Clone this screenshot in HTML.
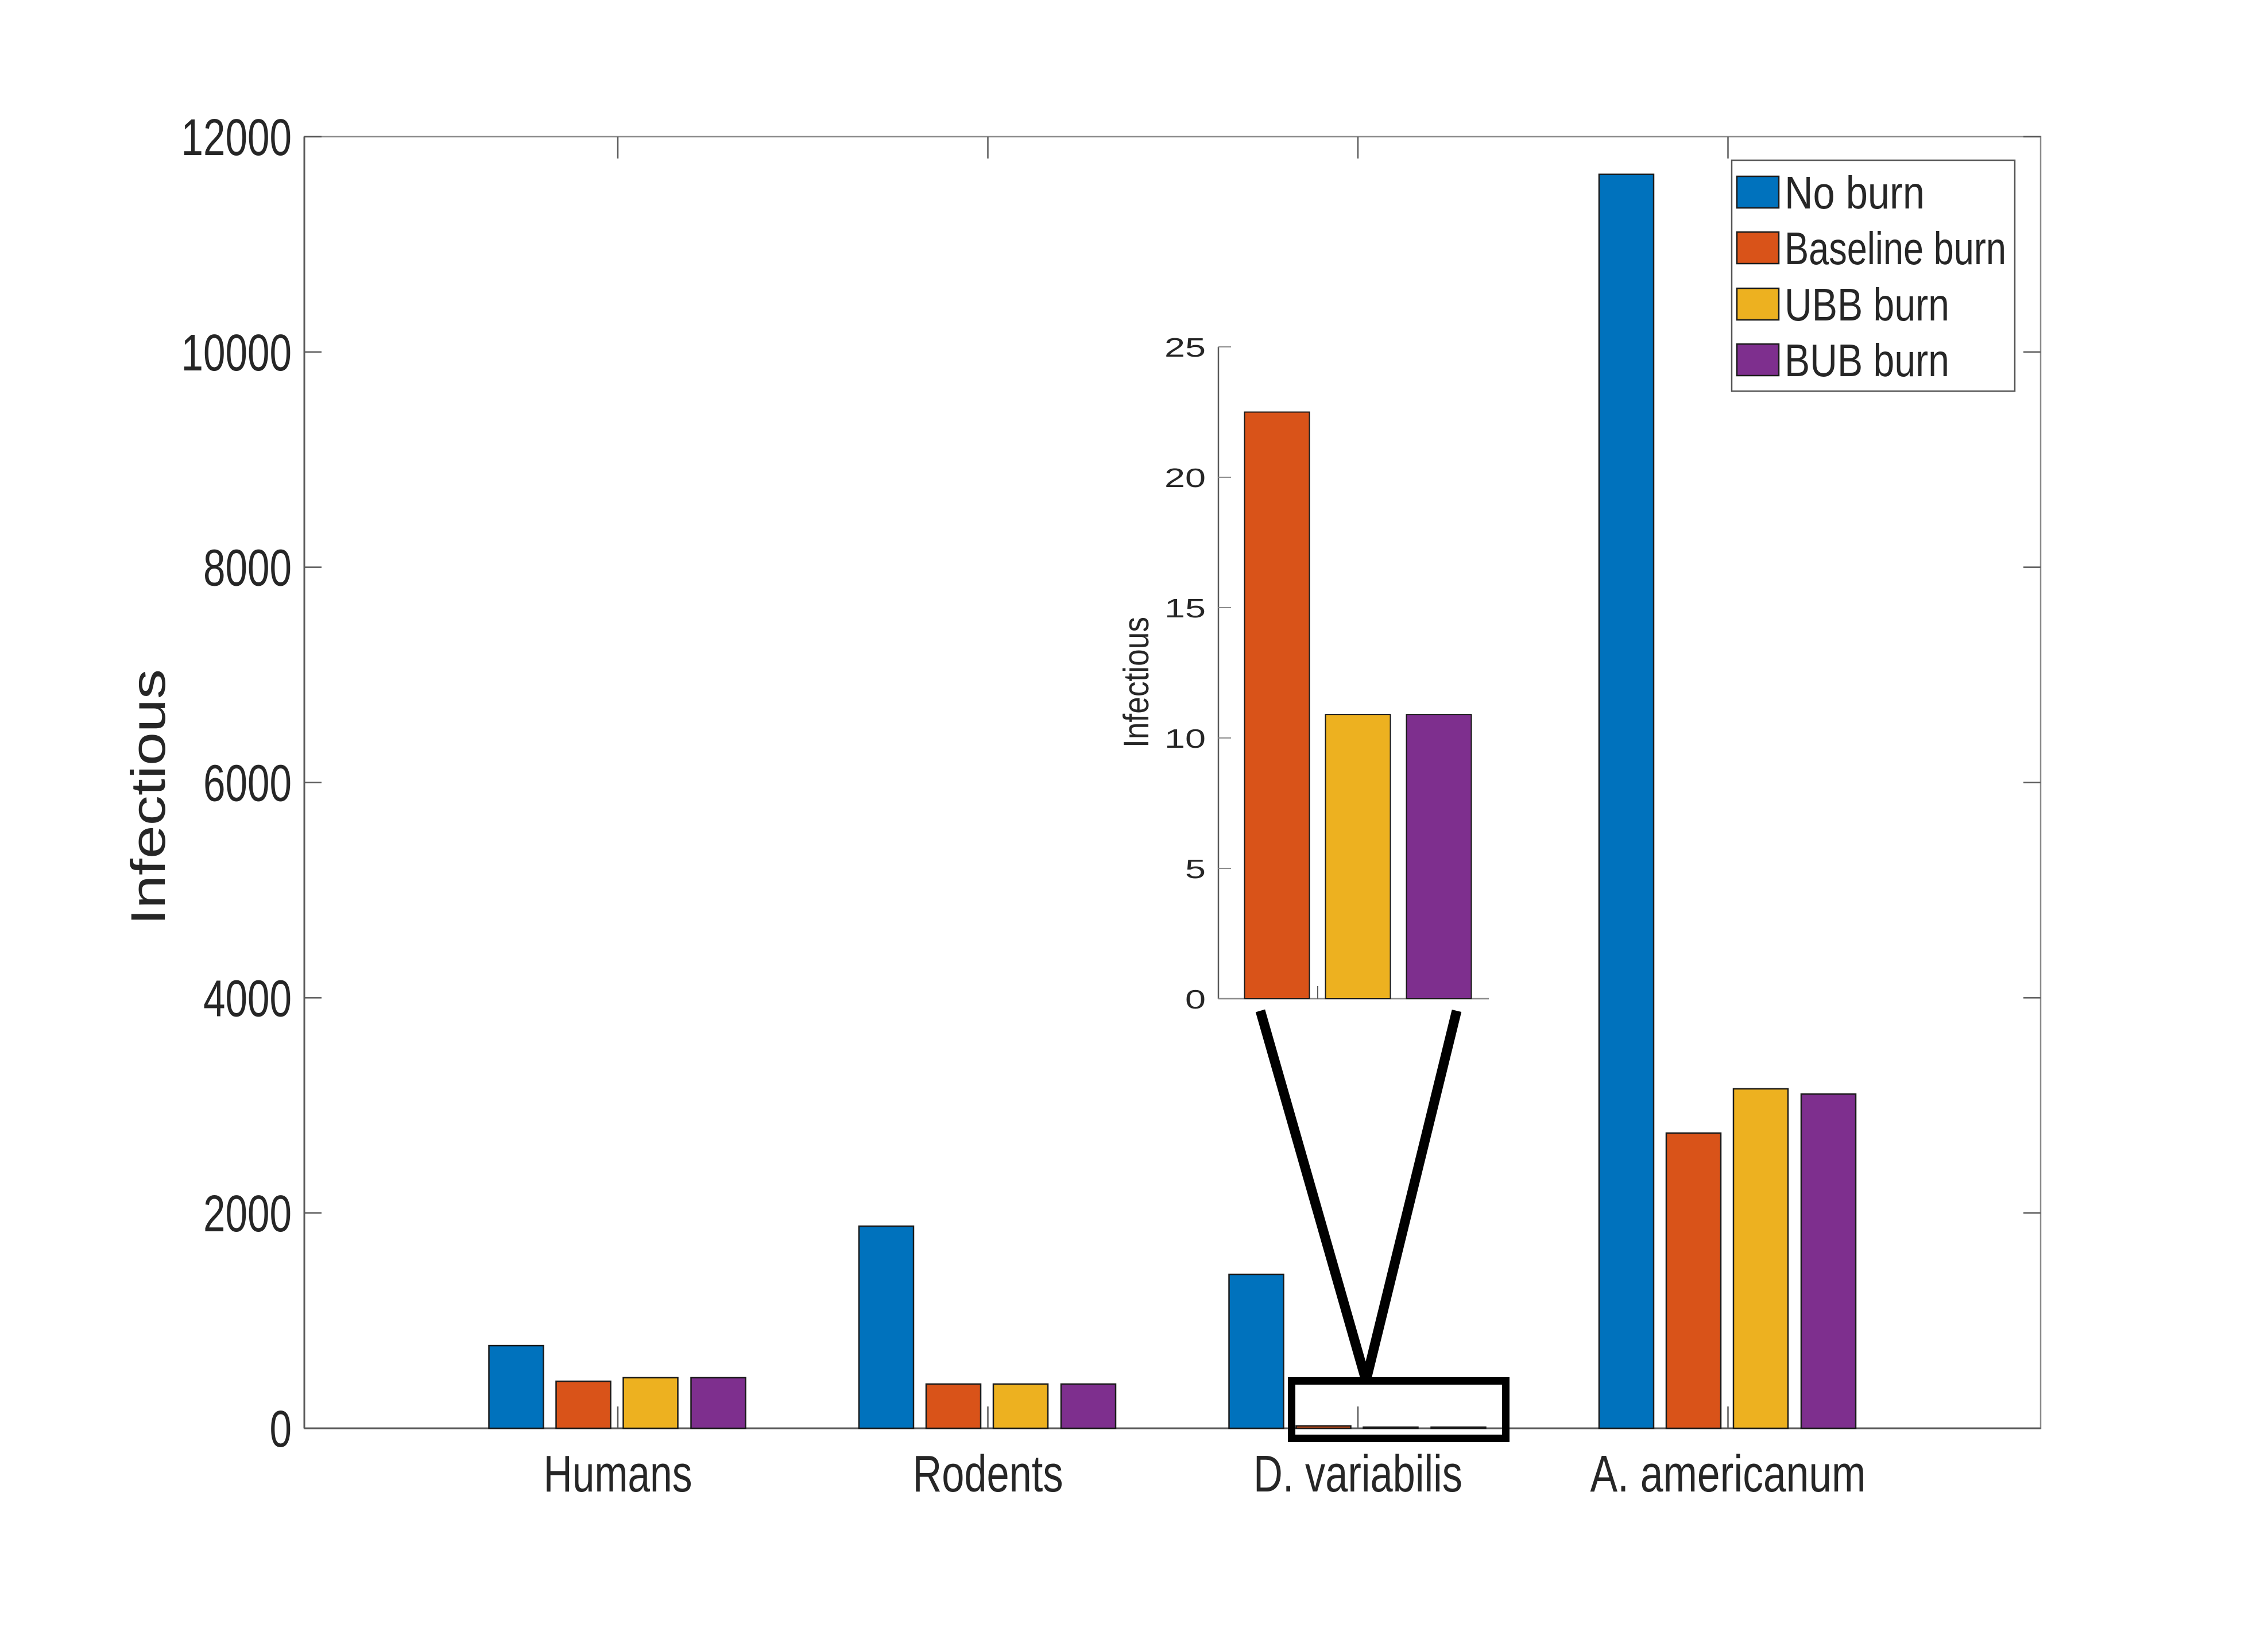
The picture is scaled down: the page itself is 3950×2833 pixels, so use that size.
<!DOCTYPE html>
<html><head><meta charset="utf-8"><style>
html,body{margin:0;padding:0;background:#fff;}
svg{display:block;}
text{font-family:"Liberation Sans",sans-serif;fill:#262626;}
</style></head><body>
<svg id="chart" width="3950" height="2833" viewBox="0 0 3950 2833" xmlns="http://www.w3.org/2000/svg">
<rect x="0" y="0" width="3950" height="2833" fill="#fff"/>
<g id="main"></g>
<g id="inset"></g>
<g id="legend"></g>
</svg>
<script>
const categories = ["Humans", "Rodents", "D. variabilis", "A. americanum"];
const seriesNames = ["No burn", "Baseline burn", "UBB burn", "BUB burn"];
const noBurn = [768, 1878, 1430, 11650];
const baselineBurn = [437, 411, 22.5, 2743];
const ubbBurn = [470, 411, 10.9, 3154];
const bubBurn = [470, 411, 10.9, 3106];
const yTicks = [0, 2000, 4000, 6000, 8000, 10000, 12000];
const yTickLabels = ["0", "2000", "4000", "6000", "8000", "10000", "12000"];
const insetSeries = ["Baseline burn", "UBB burn", "BUB burn"];
const insetValues = [22.5, 10.9, 10.9];
const insetTicks = [0, 5, 10, 15, 20, 25];
const insetTickLabels = ["0", "5", "10", "15", "20", "25"];

const colors = ["#0072BD", "#D95319", "#EDB120", "#7E2F8E"];
const NS = "http://www.w3.org/2000/svg";
function mk(tag, attrs, parent, txt) {
  const e = document.createElementNS(NS, tag);
  for (const k in attrs) e.setAttribute(k, attrs[k]);
  if (txt !== undefined) e.textContent = txt;
  parent.appendChild(e);
  return e;
}
// main axes geometry
const L = 530, R = 3554, T = 238, B = 2487;
const yMax = 12000;
function yS(v) { return B - v / yMax * (B - T); }
const c0 = 1076, cStep = 644.5;
function xS(i) { return c0 + i * cStep; }
const barOff = [-177, -60, 57, 175];
const barW = 95;
const series = [noBurn, baselineBurn, ubbBurn, bubBurn];

const main = document.getElementById("main");
const frame = mk("rect", {x: L, y: T, width: R - L, height: B - T, fill: "none", stroke: "#8c8c8c", "stroke-width": 2.5}, main);


mk("line", {x1: L, y1: T, x2: L, y2: B, stroke: "#5a5a5a", "stroke-width": 3}, main);
mk("line", {x1: L, y1: B, x2: R, y2: B, stroke: "#5a5a5a", "stroke-width": 3}, main);

// y ticks
yTicks.forEach((v, i) => {
  const y = yS(v);
  mk("line", {x1: L, y1: y, x2: L + 30, y2: y, stroke: "#5a5a5a", "stroke-width": 2.5}, main);
  mk("line", {x1: R, y1: y, x2: R - 30, y2: y, stroke: "#5a5a5a", "stroke-width": 2.5}, main);
  const lbl = yTickLabels[i];
  const t = mk("text", {x: 508, y: y + 32, "text-anchor": "end", "font-size": 90, textLength: 38.5 * lbl.length, lengthAdjust: "spacingAndGlyphs"}, main, lbl);
  
  
});
// x ticks and category labels
const catW = [259, 262, 364, 480];
categories.forEach((c, i) => {
  const x = xS(i);
  mk("line", {x1: x, y1: B, x2: x, y2: B - 38, stroke: "#5a5a5a", "stroke-width": 2.5}, main);
  mk("line", {x1: x, y1: T, x2: x, y2: T + 38, stroke: "#5a5a5a", "stroke-width": 2.5}, main);
  const t = mk("text", {x: x, y: 2597, "text-anchor": "middle", "font-size": 90, textLength: catW[i], lengthAdjust: "spacingAndGlyphs"}, main, c);
  
  
});
// bars
series.forEach((s, si) => {
  s.forEach((v, ci) => {
    const x = xS(ci) + barOff[si] - barW / 2;
    const y = yS(v);
    const r = mk("rect", {x: x, y: y, width: barW, height: B - y, fill: colors[si], stroke: "#1a1a1a", "stroke-width": 2.5}, main);
    
    
  });
});
// y label
const yl = mk("text", {x: 0, y: 0, transform: "translate(287,1388) rotate(-90)", "text-anchor": "middle", "font-size": 84, textLength: 446, lengthAdjust: "spacingAndGlyphs"}, main, "Infectious");



// zoom box and connector lines
const zb = mk("rect", {x: 2249.5, y: 2404.5, width: 373, height: 100, fill: "none", stroke: "#000", "stroke-width": 13}, main);


const zl1 = mk("line", {x1: 2195, y1: 1760, x2: 2378, y2: 2400, stroke: "#000", "stroke-width": 17}, main);


const zl2 = mk("line", {x1: 2537, y1: 1760, x2: 2380, y2: 2400, stroke: "#000", "stroke-width": 17}, main);



// inset
const inset = document.getElementById("inset");
const iL = 2122, iR = 2593, iT = 604, iB = 1739, iMax = 25;
function iy(v) { return iB - v / iMax * (iB - iT); }
const ic0 = 2224, icStep = 141, iW = 113;
mk("rect", {x: iL, y: iT - 10, width: iR - iL, height: iB - iT + 10, fill: "#fff"}, inset);
mk("line", {x1: iL, y1: iT, x2: iL, y2: iB, stroke: "#5a5a5a", "stroke-width": 2.5}, inset);
mk("line", {x1: iL, y1: iB, x2: iR, y2: iB, stroke: "#8c8c8c", "stroke-width": 2.5}, inset);
mk("line", {x1: 2295, y1: iB, x2: 2295, y2: iB - 22, stroke: "#5a5a5a", "stroke-width": 2}, inset);
insetTicks.forEach((v, i) => {
  const y = iy(v);
  mk("line", {x1: iL, y1: y, x2: iL + 22, y2: y, stroke: "#8c8c8c", "stroke-width": 2}, inset);
  const lbl = insetTickLabels[i];
  const t = mk("text", {x: 2100, y: y + 17, "text-anchor": "end", "font-size": 46, textLength: 36 * lbl.length, lengthAdjust: "spacingAndGlyphs"}, inset, lbl);
  
  
});
insetValues.forEach((v, i) => {
  const x = ic0 + i * icStep - iW / 2;
  const y = iy(v);
  const r = mk("rect", {x: x, y: y, width: iW, height: iB - y, fill: colors[i + 1], stroke: "#1a1a1a", "stroke-width": 2}, inset);
  
  
});
const iyl = mk("text", {x: 0, y: 0, transform: "translate(2000,1188) rotate(-90)", "text-anchor": "middle", "font-size": 62, textLength: 228, lengthAdjust: "spacingAndGlyphs"}, inset, "Infectious");



// legend
const leg = document.getElementById("legend");
const lb = mk("rect", {x: 3016, y: 279, width: 493, height: 402, fill: "#fff", stroke: "#555", "stroke-width": 2.5}, leg);


const rowY = [307, 404, 502, 599];
const txtW = [244, 386, 287, 287];
seriesNames.forEach((n, i) => {
  const sw = mk("rect", {x: 3025, y: rowY[i], width: 73, height: 55, fill: colors[i], stroke: "#1a1a1a", "stroke-width": 2.5}, leg);
  
  
  const t = mk("text", {x: 3108, y: rowY[i] + 56, "font-size": 80, fill: "#000", textLength: txtW[i], lengthAdjust: "spacingAndGlyphs"}, leg, n);
  t.setAttribute('fill', '#000');
  
  
});
</script>
</body></html>
